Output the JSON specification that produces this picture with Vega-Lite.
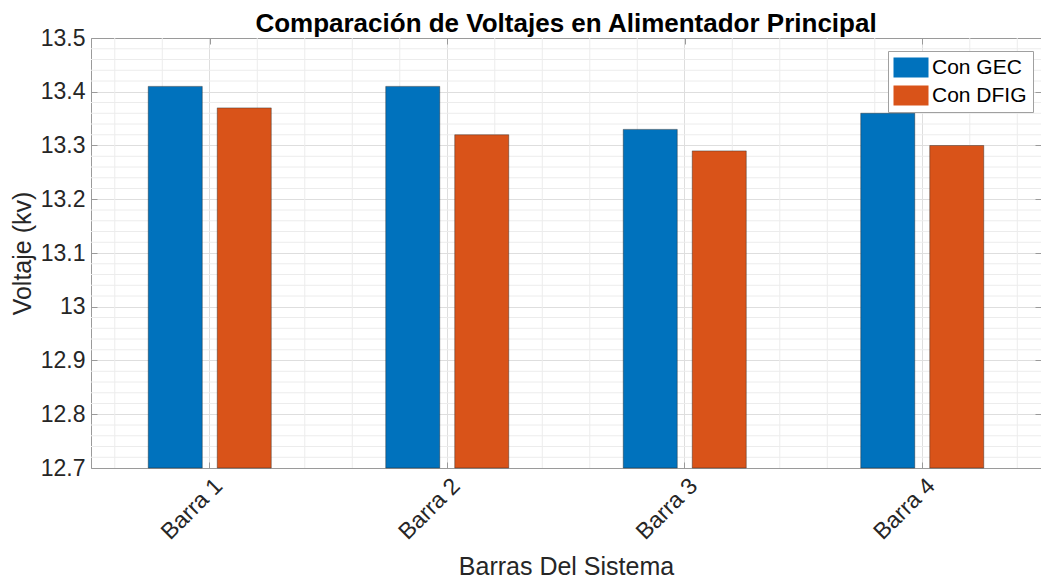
{
  "$schema": "https://vega.github.io/schema/vega-lite/v6.json",
  "width": 950,
  "height": 430,
  "autosize": {"type": "none"},
  "padding": {"left": 91, "top": 38, "right": 0, "bottom": 111},
  "background": "white",
  "title": {
    "text": "Comparación de Voltajes en Alimentador Principal",
    "font": "Liberation Sans",
    "fontSize": 26,
    "fontWeight": "bold",
    "color": "#000000",
    "anchor": "middle",
    "offset": -10
  },
  "config": {
    "view": {"stroke": null},
    "font": "Liberation Sans"
  },
  "datasets": {
    "bars": [
      {"barra": "Barra 1", "serie": "Con GEC", "voltaje": 13.41},
      {"barra": "Barra 1", "serie": "Con DFIG", "voltaje": 13.37},
      {"barra": "Barra 2", "serie": "Con GEC", "voltaje": 13.41},
      {"barra": "Barra 2", "serie": "Con DFIG", "voltaje": 13.32},
      {"barra": "Barra 3", "serie": "Con GEC", "voltaje": 13.33},
      {"barra": "Barra 3", "serie": "Con DFIG", "voltaje": 13.29},
      {"barra": "Barra 4", "serie": "Con GEC", "voltaje": 13.36},
      {"barra": "Barra 4", "serie": "Con DFIG", "voltaje": 13.30}
    ],
    "ygrid": [
      {"v": 12.72}, {"v": 12.74}, {"v": 12.76}, {"v": 12.78},
      {"v": 12.82}, {"v": 12.84}, {"v": 12.86}, {"v": 12.88},
      {"v": 12.92}, {"v": 12.94}, {"v": 12.96}, {"v": 12.98},
      {"v": 13.02}, {"v": 13.04}, {"v": 13.06}, {"v": 13.08},
      {"v": 13.12}, {"v": 13.14}, {"v": 13.16}, {"v": 13.18},
      {"v": 13.22}, {"v": 13.24}, {"v": 13.26}, {"v": 13.28},
      {"v": 13.32}, {"v": 13.34}, {"v": 13.36}, {"v": 13.38},
      {"v": 13.42}, {"v": 13.44}, {"v": 13.46}, {"v": 13.48}
    ],
    "xgrid": [
      {"g": 0.6}, {"g": 0.8}, {"g": 1.2}, {"g": 1.4}, {"g": 1.6}, {"g": 1.8},
      {"g": 2.2}, {"g": 2.4}, {"g": 2.6}, {"g": 2.8},
      {"g": 3.2}, {"g": 3.4}, {"g": 3.6}, {"g": 3.8},
      {"g": 4.2}, {"g": 4.4}
    ]
  },
  "layer": [
    {
      "data": {"name": "ygrid"},
      "mark": {"type": "rule", "color": "#ececec", "strokeWidth": 1},
      "encoding": {
        "y": {
          "field": "v",
          "type": "quantitative",
          "scale": {"domain": [12.7, 13.5], "zero": false, "nice": false},
          "axis": {
            "orient": "right",
            "values": [12.7, 12.8, 12.9, 13.0, 13.1, 13.2, 13.3, 13.4, 13.5],
            "labels": false,
            "domain": false,
            "grid": false,
            "title": null,
            "tickSize": -6,
            "tickColor": "#9a9a9a"
          }
        }
      }
    },
    {
      "data": {"name": "xgrid"},
      "mark": {"type": "rule", "color": "#ececec", "strokeWidth": 1},
      "encoding": {
        "x": {
          "field": "g",
          "type": "quantitative",
          "scale": {"domain": [0.5, 4.5], "zero": false, "nice": false},
          "axis": {
            "orient": "top",
            "values": [1, 2, 3, 4],
            "labels": false,
            "domain": true,
            "domainColor": "#9a9a9a",
            "grid": false,
            "title": null,
            "tickSize": -6,
            "tickColor": "#9a9a9a"
          }
        }
      }
    },
    {
      "data": {"name": "bars"},
      "mark": {"type": "bar", "stroke": "#222222", "strokeWidth": 0.6, "strokeOpacity": 0.7},
      "encoding": {
        "x": {
          "field": "barra",
          "type": "nominal",
          "scale": {"paddingInner": 0.482, "paddingOuter": 0.241},
          "axis": {
            "title": "Barras Del Sistema",
            "labelAngle": -45,
            "labelAlign": "right",
            "labelBaseline": "middle",
            "labelFontSize": 23,
            "labelColor": "#262626",
            "labelPadding": 20,
            "labelOffset": 9,
            "titleFontSize": 25,
            "titleFontWeight": "normal",
            "titleColor": "#262626",
            "titlePadding": 11,
            "grid": true,
            "gridColor": "#dedede",
            "domainColor": "#9a9a9a",
            "tickColor": "#9a9a9a",
            "tickSize": -6
          }
        },
        "xOffset": {
          "field": "serie",
          "type": "nominal",
          "sort": ["Con GEC", "Con DFIG"],
          "scale": {"paddingInner": 0.217, "paddingOuter": 0}
        },
        "y": {
          "field": "voltaje",
          "type": "quantitative",
          "scale": {"domain": [12.7, 13.5], "zero": false, "nice": false},
          "axis": {
            "title": "Voltaje (kv)",
            "values": [12.7, 12.8, 12.9, 13.0, 13.1, 13.2, 13.3, 13.4, 13.5],
            "format": ".3~r",
            "labelFontSize": 23,
            "labelColor": "#262626",
            "labelPadding": 12,
            "titleFontSize": 25,
            "titleFontWeight": "normal",
            "titleColor": "#262626",
            "titlePadding": 5,
            "grid": true,
            "gridColor": "#dedede",
            "domainColor": "#9a9a9a",
            "tickColor": "#9a9a9a",
            "tickSize": -6
          }
        },
        "y2": {"datum": 12.7},
        "color": {
          "field": "serie",
          "type": "nominal",
          "scale": {"domain": ["Con GEC", "Con DFIG"], "range": ["#0072BD", "#D95319"]},
          "legend": {
            "title": null,
            "orient": "none",
            "legendX": 797,
            "legendY": 13,
            "symbolType": "M-1.75,-1H1.75V1H-1.75Z",
            "symbolSize": 400,
            "symbolStrokeWidth": 0,
            "symbolOpacity": 1,
            "labelFontSize": 21,
            "labelFont": "Liberation Sans",
            "labelColor": "#000000",
            "strokeColor": "#a0a0a0",
            "fillColor": "#ffffff",
            "padding": 6,
            "rowPadding": 6,
            "symbolOffset": 6.5,
            "labelOffset": 10.5
          }
        }
      }
    }
  ],
  "resolve": {"scale": {"x": "independent"}, "axis": {"y": "independent", "x": "independent"}}
}
